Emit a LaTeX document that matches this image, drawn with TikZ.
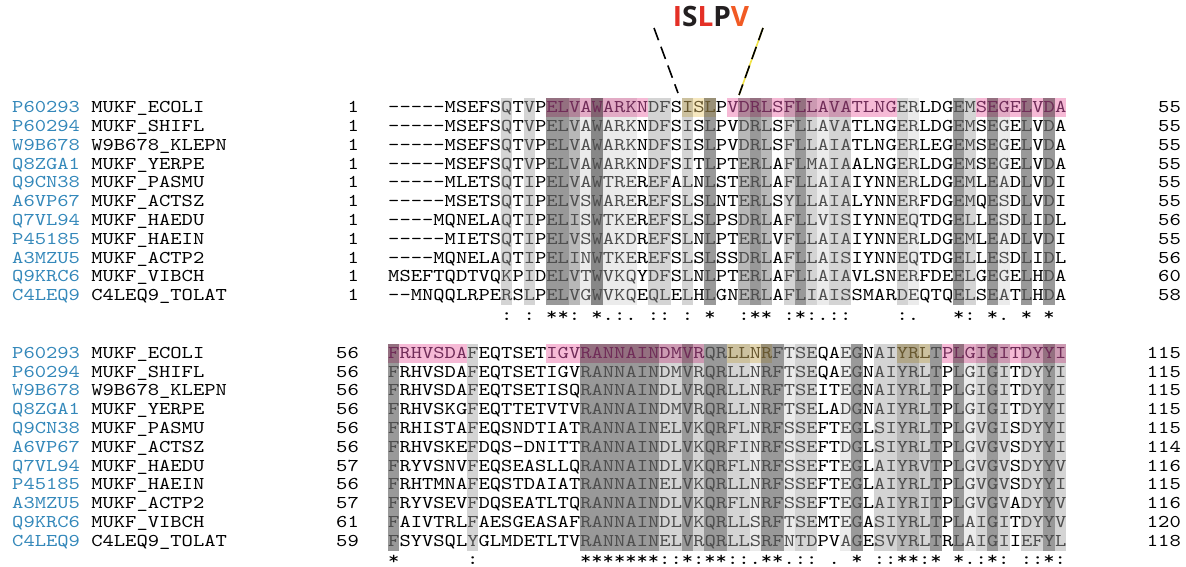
\documentclass[tikz,border=0pt]{standalone}
\usepackage{fontspec}
\newfontfamily\seqfont{lmmono10-regular.otf}[FakeStretch=1.196]
\newfontfamily\headfont{Open Sans}

\definecolor{accblue}{RGB}{52,136,186}
\definecolor{pinkbase}{RGB}{246,186,214}
\definecolor{tanbase}{RGB}{246,232,192}
\definecolor{motifred}{RGB}{228,48,38}
\definecolor{motiforange}{RGB}{241,90,36}
\definecolor{motifdark}{RGB}{35,31,32}
\definecolor{dashyellow}{RGB}{240,226,70}
\definecolor{seqgray}{RGB}{78,78,78}
\definecolor{ptext}{RGB}{112,44,88}
\definecolor{ttext}{RGB}{104,88,48}
\colorlet{g1}{white!92!black}
\colorlet{g2}{white!83!black}
\colorlet{g3}{white!72!black}
\colorlet{g4}{white!60!black}
\colorlet{g5}{white!53!black}
\colorlet{p0}{pinkbase}
\colorlet{p1}{pinkbase!92!black}
\colorlet{p2}{pinkbase!83!black}
\colorlet{p3}{pinkbase!72!black}
\colorlet{p4}{pinkbase!60!black}
\colorlet{p5}{pinkbase!53!black}
\colorlet{t0}{tanbase}
\colorlet{t1}{tanbase!92!black}
\colorlet{t2}{tanbase!83!black}
\colorlet{t3}{tanbase!72!black}
\colorlet{t4}{tanbase!62!black}
\colorlet{t5}{tanbase!55!black}

% shade level of a column, 0 when the column is not shaded
\newcommand\lev[2]{\ifcsname lv#1@#2\endcsname\csname lv#1@#2\endcsname\else0\fi}

% residues of a row, grey in shaded columns, tinted in the highlighted first row
\makeatletter
\newcount\seqcol
\newcommand\shadedseq[3]{%
  \seqcol=0\relax
  \expandafter\@tfor\expandafter\ch\expandafter:\expandafter=#3\do{%
    \edef\lv{\lev{#1}{\the\seqcol}}%
    \def\hc{}%
    \ifnum#2=1\relax
      \ifcsname hl#1@\the\seqcol\endcsname
        \edef\hc{\csname hl#1@\the\seqcol\endcsname}%
      \fi
    \fi
    \ifx\hc\empty
      \ifnum\lv>0\relax\textcolor{seqgray}{\ch}\else\ch\fi
    \else
      \textcolor{\hc text}{\ch}%
    \fi
    \advance\seqcol by 1\relax}}
\makeatother

\begin{document}
\begin{tikzpicture}[x=1pt,y=-1pt,
    seq/.style={anchor=base west,inner sep=0pt,font=\seqfont\fontsize{18}{20}\selectfont},
    num/.style={anchor=base east,inner sep=0pt,font=\seqfont\fontsize{18}{20}\selectfont},
    cons/.style={anchor=base,inner sep=0pt,font=\seqfont\fontsize{18}{20}\selectfont},
    motif/.style={anchor=base,inner sep=0pt,font=\headfont\bfseries\fontsize{28}{30}\selectfont},
    bracket/.style={line width=1.6pt,dash pattern=on 13pt off 7pt}]
    \useasboundingbox (0,0) rectangle (1186,567);

    % first block: column shading
    \foreach \c/\l in {10/2,12/2,14/4,15/4,16/3,17/1,18/5,19/1,20/1,21/1,23/2,24/2,26/2,28/4,
        31/3,32/4,33/3,35/2,36/4,37/2,38/1,39/2,40/2,45/2,46/1,50/4,51/2,53/4,54/1,56/4,58/4}{
        \fill[fill=g\l] (388+\c*11.3,98.2) rectangle (399.3+\c*11.3,305);
        \expandafter\xdef\csname lvA@\c\endcsname{\l}}
    \foreach \h/\a/\b in {p/14/22,t/26/28,p/30/44,p/52/59}
        \foreach \c in {\a,...,\b}{
            \edef\l{\lev{A}{\c}}
            \expandafter\xdef\csname hlA@\c\endcsname{\h}
            \fill[fill=\h\l] (388+\c*11.3,98.2) rectangle (399.3+\c*11.3,117);}

    % second block: column shading
    \foreach \c/\l in {0/4,7/2,17/4,18/4,19/4,20/4,21/4,22/4,23/4,24/2,25/2,26/4,27/2,28/4,29/4,
        30/2,31/2,32/1,33/4,34/4,35/1,36/2,37/2,40/1,41/4,43/2,44/2,45/3,46/3,47/2,48/4,
        50/4,51/1,52/2,53/4,54/2,56/2,57/2,58/4,59/2}{
        \fill[fill=g\l] (388+\c*11.3,343.8) rectangle (399.3+\c*11.3,550.6);
        \expandafter\xdef\csname lvB@\c\endcsname{\l}}
    \foreach \h/\a/\b in {p/0/6,p/14/27,t/30/33,t/45/47,p/49/59}
        \foreach \c in {\a,...,\b}{
            \edef\l{\lev{B}{\c}}
            \expandafter\xdef\csname hlB@\c\endcsname{\h}
            \fill[fill=\h\l] (388+\c*11.3,343.8) rectangle (399.3+\c*11.3,362.6);}

    % first block: rows
    \foreach \acc/\nm/\st/\sq/\en [count=\r] in {
        P60293/MUKF\_ECOLI/1/-----MSEFSQTVPELVAWARKNDFSISLPVDRLSFLLAVATLNGERLDGEMSEGELVDA/55,
        P60294/MUKF\_SHIFL/1/-----MSEFSQTVPELVAWARKNDFSISLPVDRLSFLLAVATLNGERLDGEMSEGELVDA/55,
        W9B678/W9B678\_KLEPN/1/-----MSEFSQTVPELVAWARKNDFSISLPVDRLSFLLAIATLNGERLEGEMSEGELVDA/55,
        Q8ZGA1/MUKF\_YERPE/1/-----MSEFSQTVPELVAWARKNDFSITLPTERLAFLMAIAALNGERLDGEMSEGELVDA/55,
        Q9CN38/MUKF\_PASMU/1/-----MLETSQTIPELVAWTREREFALNLSTERLAFLLAIAIYNNERLDGEMLEADLVDI/55,
        A6VP67/MUKF\_ACTSZ/1/-----MSETSQTIPELVSWAREREFSLSLNTERLSYLLAIALYNNERFDGEMQESDLVDI/55,
        Q7VL94/MUKF\_HAEDU/1/----MQNELAQTIPELISWTKEREFSLSLPSDRLAFLLVISIYNNEQTDGELLESDLIDL/56,
        P45185/MUKF\_HAEIN/1/-----MIETSQTIPELVSWAKDREFSLNLPTERLVFLLAIAIYNNERLDGEMLEADLVDI/55,
        A3MZU5/MUKF\_ACTP2/1/----MQNELAQTIPELINWTKEREFSLSLSSDRLAFLLAISIYNNEQTDGELLESDLIDL/56,
        Q9KRC6/MUKF\_VIBCH/1/MSEFTQDTVQKPIDELVTWVKQYDFSLNLPTERLAFLLAIAVLSNERFDEELGEGELHDA/60,
        C4LEQ9/C4LEQ9\_TOLAT/1/--MNQQLRPERSLPELVGWVKQEQLELHLGNERLAFLIAISSMARDEQTQELSEATLHDA/58}{
        \node[seq] (nmA\r) at (12,93.9+\r*18.8) {\textcolor{accblue}{\acc} \nm};
        \node[num] (stA\r) at (359,93.9+\r*18.8) {\st};
        \node[seq] (sqA\r) at (388,93.9+\r*18.8) {\shadedseq{A}{\r}{\sq}};
        \node[num] (enA\r) at (1181,93.9+\r*18.8) {\en};}

    % second block: rows
    \foreach \acc/\nm/\st/\sq/\en [count=\r] in {
        P60293/MUKF\_ECOLI/56/FRHVSDAFEQTSETIGVRANNAINDMVRQRLLNRFTSEQAEGNAIYRLTPLGIGITDYYI/115,
        P60294/MUKF\_SHIFL/56/FRHVSDAFEQTSETIGVRANNAINDMVRQRLLNRFTSEQAEGNAIYRLTPLGIGITDYYI/115,
        W9B678/W9B678\_KLEPN/56/FRHVSDAFEQTSETISQRANNAINDLVRQRLLNRFTSEITEGNAIYRLTPLGIGITDYYI/115,
        Q8ZGA1/MUKF\_YERPE/56/FRHVSKGFEQTTETVTVRANNAINDMVRQRLLNRFTSELADGNAIYRLTPLGIGITDYYI/115,
        Q9CN38/MUKF\_PASMU/56/FRHISTAFEQSNDTIATRANNAINELVKQRFLNRFSSEFTEGLSIYRLTPLGVGISDYYI/115,
        A6VP67/MUKF\_ACTSZ/56/FRHVSKEFDQS-DNITTRANNAINDLVKQRFINRFSSEFTDGLSIYRLTPLGVGVSDYYI/114,
        Q7VL94/MUKF\_HAEDU/57/FRYVSNVFEQSEASLLQRANNAINDLVKQRFLNRFSSEFTEGLAIYRVTPLGVGVSDYYV/116,
        P45185/MUKF\_HAEIN/56/FRHTMNAFEQSTDAIATRANNAINELVKQRLLNRFSSEFTEGLAIYRLTPLGVGVSDYYI/115,
        A3MZU5/MUKF\_ACTP2/57/FRYVSEVFDQSEATLTQRANNAINDLVKQRFLNRFSSEFTEGLAIYRITPLGVGVADYYV/116,
        Q9KRC6/MUKF\_VIBCH/61/FAIVTRLFAESGEASAFRANNAINDLVKQRLLSRFTSEMTEGASIYRLTPLAIGITDYYV/120,
        C4LEQ9/C4LEQ9\_TOLAT/59/FSYVSQLYGLMDETLTVRANNAINELVRQRLLSRFNTDPVAGESVYRLTRLAIGIIEFYL/118}{
        \node[seq] (nmB\r) at (12,339.5+\r*18.8) {\textcolor{accblue}{\acc} \nm};
        \node[num] (stB\r) at (359,339.5+\r*18.8) {\st};
        \node[seq] (sqB\r) at (388,339.5+\r*18.8) {\shadedseq{B}{\r}{\sq}};
        \node[num] (enB\r) at (1181,339.5+\r*18.8) {\en};}

    % conservation lines
    \foreach \c/\s in {10/:,12/:,14/*,15/*,16/:,18/*,19/.,20/:,21/.,23/:,24/:,26/:,28/*,31/:,32/*,
        33/*,35/:,36/*,37/:,38/.,39/:,40/:,45/:,46/.,50/*,51/:,53/*,54/.,56/*,58/*}
        \node[cons] (csA\c) at (393.65+\c*11.3,320) {\s};
    \foreach \c/\s in {0/*,7/:,17/*,18/*,19/*,20/*,21/*,22/*,23/*,24/:,25/:,26/*,27/:,28/*,29/*,
        30/:,31/:,32/.,33/*,34/*,35/.,36/:,37/:,39/.,41/*,43/:,44/:,45/*,46/*,47/:,48/*,
        50/*,51/.,52/:,53/*,54/:,56/:,57/:,58/*,59/:}
        \node[cons] (csB\c) at (393.65+\c*11.3,564) {\s};

    % motif label
    \node[motif] (islpv) at (711,26.7) {\textcolor{motifred}{I}\textcolor{motifdark}{S}%
        \textcolor{motifred}{L}\textcolor{motifdark}{P}\textcolor{motiforange}{V}};
    \coordinate (islpv-lt) at (654,28);
    \coordinate (islpv-lb) at (678,93);
    \coordinate (islpv-rt) at (763,28);
    \coordinate (islpv-rb) at (739,95);
    \draw[bracket] (islpv-lt) -- (islpv-lb);
    \draw[line width=1.6pt,dashyellow] (islpv-rt) -- (islpv-rb);
    \draw[bracket] (islpv-rt) -- (islpv-rb);
\end{tikzpicture}
\end{document}
